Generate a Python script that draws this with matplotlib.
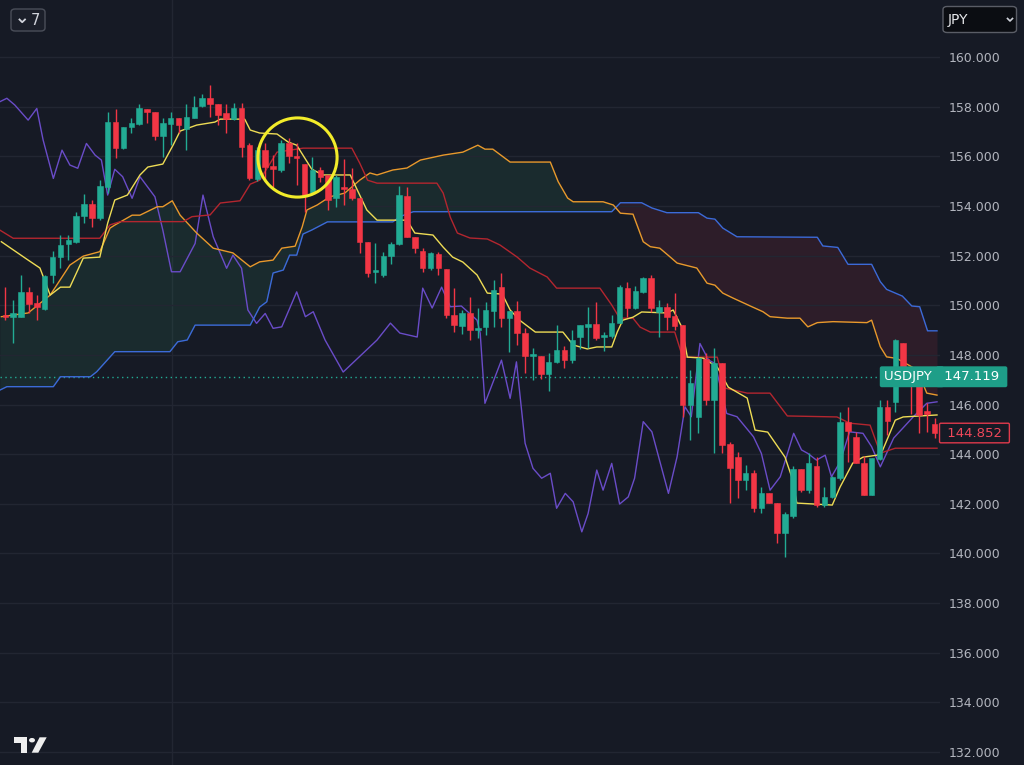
import matplotlib
matplotlib.use("Agg")
import matplotlib.pyplot as plt
import numpy as np
from matplotlib.patches import Rectangle, FancyBboxPatch, Polygon, Circle
from matplotlib.lines import Line2D

# ---- candles (USDJPY) ----
open_ = [149.60, 149.52, 149.54, 150.54, 150.09, 149.85, 151.22, 151.94, 152.47, 152.56,
         153.59, 154.08, 153.51, 154.77, 157.39, 156.33, 157.18, 157.30, 157.92, 157.78,
         156.82, 157.30, 157.54, 157.10, 157.54, 158.03, 158.35, 158.11, 157.74, 157.50,
         157.95, 156.45, 155.07, 156.25, 155.62, 155.45, 156.52, 156.01, 155.69, 154.51,
         155.45, 155.25, 154.31, 154.77, 154.67, 154.31, 152.56, 151.35, 151.22, 151.98,
         152.47, 154.40, 152.76, 152.20, 151.49, 152.06, 151.45, 149.60, 149.16, 149.70,
         149.00, 149.13, 149.77, 150.75, 149.47, 149.78, 148.87, 147.95, 147.95, 147.23,
         147.72, 148.19, 147.79, 148.73, 149.13, 149.24, 148.73, 148.76, 149.30, 150.68,
         149.88, 150.54, 151.08, 149.74, 149.94, 149.57, 149.20, 145.98, 145.51, 147.82,
         146.18, 147.68, 144.41, 143.90, 142.96, 143.23, 141.82, 142.42, 142.02, 140.81,
         141.51, 143.39, 142.55, 143.52, 141.95, 142.28, 143.03, 145.31, 144.68, 143.63,
         142.35, 143.79, 145.89, 146.11, 148.46, 147.10, 146.78, 145.75, 145.21]
high = [150.75, 150.21, 151.22, 150.75, 150.41, 151.22, 152.20, 152.83, 152.83, 153.77,
        154.48, 154.24, 155.04, 157.80, 157.90, 157.20, 157.54, 158.11, 157.92, 157.78,
        157.54, 157.80, 157.54, 158.11, 158.43, 158.51, 158.87, 158.11, 158.11, 158.15,
        158.15, 156.52, 156.37, 156.53, 156.05, 156.66, 156.72, 156.52, 155.69, 155.96,
        155.56, 155.25, 155.25, 155.88, 155.52, 154.31, 152.56, 152.49, 152.16, 152.56,
        154.80, 154.77, 152.76, 152.29, 152.16, 152.16, 151.45, 150.69, 149.81, 150.33,
        149.88, 150.14, 151.02, 151.30, 149.78, 150.18, 149.08, 148.28, 147.95, 148.09,
        149.20, 148.35, 149.00, 149.20, 149.94, 150.14, 148.93, 149.60, 150.80, 150.95,
        150.77, 151.12, 151.22, 150.21, 150.09, 150.49, 149.20, 147.39, 147.93, 148.06,
        148.28, 147.68, 144.50, 144.10, 143.56, 143.36, 142.69, 142.42, 142.02, 141.68,
        143.52, 143.39, 144.03, 143.90, 142.69, 143.12, 145.71, 145.91, 144.90, 143.92,
        143.83, 146.18, 146.18, 148.63, 148.46, 147.20, 146.86, 146.06, 145.46]
low = [149.40, 148.46, 149.52, 149.69, 149.40, 149.81, 150.89, 151.50, 151.82, 152.51,
       153.31, 153.16, 153.43, 154.52, 155.93, 156.30, 156.94, 157.26, 157.34, 156.66,
       155.97, 156.45, 156.94, 156.25, 157.54, 158.00, 157.59, 157.26, 156.95, 157.46,
       155.97, 155.04, 155.00, 155.04, 154.77, 155.38, 155.72, 154.84, 153.77, 154.44,
       154.98, 153.84, 153.97, 154.04, 154.24, 152.09, 151.15, 150.88, 151.15, 151.68,
       152.43, 152.76, 152.09, 151.35, 151.42, 151.22, 149.47, 148.93, 148.84, 148.60,
       148.67, 148.80, 149.13, 149.13, 148.13, 148.40, 147.28, 146.99, 147.03, 146.56,
       147.68, 147.46, 147.66, 148.24, 148.26, 148.60, 148.17, 148.67, 149.30, 149.54,
       149.84, 150.48, 149.74, 148.72, 149.00, 149.00, 145.51, 144.57, 144.84, 145.98,
       144.03, 144.03, 142.02, 142.22, 142.55, 141.68, 141.62, 142.04, 140.43, 139.87,
       141.43, 142.49, 142.42, 141.88, 141.88, 142.22, 142.96, 143.70, 143.63, 142.35,
       142.35, 143.76, 144.77, 145.71, 146.78, 145.60, 144.85, 144.90, 144.64]
close = [149.52, 149.69, 150.54, 150.05, 149.93, 151.19, 151.94, 152.43, 152.63, 153.59,
         154.08, 153.51, 154.80, 157.39, 156.32, 157.18, 157.34, 157.95, 157.78, 156.82,
         157.34, 157.54, 157.26, 157.58, 158.00, 158.35, 158.11, 157.66, 157.50, 157.95,
         156.37, 155.11, 156.25, 155.58, 155.48, 156.52, 156.01, 155.92, 154.44, 155.45,
         155.18, 154.24, 155.18, 154.67, 154.31, 152.56, 151.31, 151.42, 151.98, 152.47,
         154.44, 152.76, 152.29, 151.49, 152.09, 151.49, 149.60, 149.20, 149.70, 149.00,
         149.08, 149.81, 150.61, 149.47, 149.78, 148.87, 147.95, 148.03, 147.23, 147.72,
         148.19, 147.79, 148.60, 149.20, 149.24, 148.67, 148.80, 149.30, 150.72, 149.88,
         150.58, 151.08, 149.89, 149.94, 149.54, 149.16, 145.98, 146.88, 147.86, 146.18,
         147.68, 144.37, 143.43, 142.96, 143.23, 141.82, 142.42, 142.04, 140.81, 141.59,
         143.39, 142.55, 143.63, 141.95, 142.28, 143.07, 145.31, 144.94, 143.63, 142.35,
         143.83, 145.89, 145.35, 148.60, 146.85, 146.75, 145.57, 145.60, 144.852]

# ---- ichimoku lines (bar index, price) ----
tenkan_idx = [-0.5, 2.9, 4.4, 5.7, 7.0, 8.2, 9.9, 12.0, 13.0, 13.9, 15.5, 17.1, 18.1, 20.0,
              21.3, 22.2, 24.3, 26.6, 27.3, 30.4, 31.1, 32.3, 34.5, 35.9, 37.0, 38.9, 40.3,
              43.8, 44.7, 45.9, 47.2, 51.0, 52.0, 54.3, 55.6, 56.8, 58.1, 59.9, 61.2, 63.1,
              64.1, 65.3, 67.3, 70.8, 72.1, 73.9, 75.1, 77.0, 77.7, 78.4, 79.7, 80.8, 84.0,
              84.8, 85.9, 86.6, 88.6, 90.4, 91.8, 94.2, 95.2, 96.8, 99.0, 99.9, 100.5, 105.0,
              106.0, 107.6, 108.9, 110.7, 111.4, 113.0, 114.0, 118.3]
tenkan = [152.56, 151.82, 151.50, 150.41, 150.73, 150.73, 151.90, 151.94, 153.31, 154.24,
          154.44, 155.25, 155.57, 155.69, 156.45, 157.02, 157.26, 157.38, 157.50, 157.50,
          157.06, 156.94, 156.90, 156.58, 156.45, 155.49, 155.25, 155.25, 154.64, 153.84,
          153.43, 153.43, 152.91, 152.83, 152.34, 151.94, 151.74, 151.22, 150.49, 150.45,
          149.81, 149.40, 148.92, 148.92, 148.40, 148.24, 148.32, 148.32, 148.92, 149.40,
          149.52, 149.73, 149.69, 149.81, 149.12, 147.91, 147.87, 147.51, 146.70, 146.26,
          144.97, 144.89, 143.88, 143.04, 142.03, 141.95, 142.68, 143.64, 143.88, 143.96,
          144.16, 145.37, 145.50, 145.58]

kijun_idx = [-0.7, 1.0, 12.0, 13.3, 14.6, 22.6, 23.7, 26.0, 27.3, 29.8, 31.1, 32.3, 34.5,
             37.8, 44.0, 45.0, 46.0, 47.2, 54.8, 55.6, 56.5, 57.4, 59.0, 61.2, 62.8, 65.0,
             66.6, 68.8, 70.0, 75.5, 77.0, 78.0, 79.7, 80.6, 81.9, 85.0, 86.0, 90.4, 91.4,
             94.2, 97.1, 99.3, 105.6, 107.2, 109.8, 111.1, 113.0, 118.3]
kijun = [153.03, 152.70, 152.70, 153.24, 153.37, 153.37, 153.57, 153.64, 154.12, 154.21,
         154.88, 155.04, 156.17, 156.33, 156.33, 155.73, 155.04, 154.92, 154.92, 154.52,
         153.55, 152.91, 152.71, 152.67, 152.43, 151.94, 151.50, 151.14, 150.69, 150.69,
         150.01, 149.48, 149.48, 149.12, 148.92, 148.92, 147.91, 147.91, 146.66, 146.46,
         146.46, 145.54, 145.50, 145.25, 145.17, 144.04, 144.24, 144.24]

span_a_idx = [-0.5, 2.9, 5.7, 8.2, 9.9, 12.0, 13.3, 13.9, 16.1, 17.1, 19.3, 20.0, 21.2, 22.2,
              24.3, 26.4, 28.9, 31.1, 32.3, 34.0, 35.1, 36.8, 37.7, 38.3, 39.6, 41.2, 43.1,
              45.0, 46.3, 47.2, 49.2, 51.0, 52.7, 55.6, 58.1, 60.0, 60.9, 61.9, 64.1, 69.2,
              70.2, 71.4, 72.1, 75.9, 77.2, 78.1, 79.7, 81.0, 81.9, 83.1, 84.4, 85.3, 87.8,
              89.1, 90.1, 91.1, 92.4, 94.8, 96.2, 97.1, 99.3, 100.9, 101.9, 103.1, 105.1,
              109.4, 110.0, 111.1, 111.9, 113.2, 115.8, 117.0, 118.3]
span_a = [149.54, 149.69, 150.41, 151.62, 151.98, 152.16, 153.11, 153.23, 153.63, 153.63,
          153.97, 153.97, 154.21, 153.63, 152.91, 152.30, 152.11, 151.55, 151.75, 151.82,
          152.30, 152.38, 153.16, 153.84, 154.04, 154.37, 154.52, 155.04, 155.33, 155.25,
          155.45, 155.53, 155.85, 156.05, 156.17, 156.45, 156.29, 156.29, 155.77, 155.77,
          154.98, 154.32, 154.17, 154.17, 154.04, 153.71, 153.67, 152.56, 152.36, 152.30,
          151.95, 151.70, 151.50, 150.89, 150.81, 150.49, 150.29, 149.94, 149.74, 149.54,
          149.48, 149.48, 149.13, 149.30, 149.34, 149.30, 149.40, 148.33, 147.92, 147.86,
          147.39, 146.46, 146.38]

span_b_idx = [-0.7, 0.2, 6.1, 7.0, 10.8, 11.6, 13.9, 20.9, 21.9, 23.1, 24.1, 31.1, 32.3,
              33.2, 34.0, 35.3, 36.1, 37.0, 37.8, 38.9, 40.9, 49.2, 50.1, 51.8, 77.0, 78.1,
              80.8, 82.1, 84.0, 88.0, 89.1, 90.1, 91.1, 92.9, 103.1, 103.8, 105.7, 107.0,
              110.0, 111.1, 111.9, 113.9, 115.1, 116.1, 117.1, 118.3]
span_b = [146.58, 146.72, 146.72, 147.12, 147.12, 147.32, 148.13, 148.13, 148.53, 148.60,
          149.20, 149.20, 149.93, 150.14, 151.30, 151.42, 152.02, 152.02, 152.87, 153.03,
          153.36, 153.36, 153.57, 153.77, 153.77, 154.13, 154.13, 153.92, 153.73, 153.73,
          153.51, 153.47, 153.11, 152.76, 152.74, 152.39, 152.33, 151.65, 151.65, 150.95,
          150.64, 150.37, 149.97, 149.94, 148.97, 148.97]

chikou_idx = [-0.7, 0.2, 1.2, 2.9, 4.0, 4.8, 6.1, 7.2, 8.2, 9.2, 10.3, 11.4, 12.2, 13.0,
              13.9, 14.9, 16.1, 17.1, 19.0, 20.0, 21.1, 22.2, 24.1, 25.1, 26.4, 28.1, 28.9,
              30.0, 30.8, 31.9, 33.0, 34.0, 35.1, 37.0, 38.1, 39.1, 40.6, 42.9, 47.2, 48.9,
              50.1, 52.3, 53.0, 54.2, 55.4, 56.5, 57.9, 59.9, 60.3, 60.9, 63.0, 64.1, 64.9,
              66.0, 67.0, 68.1, 69.2, 70.0, 71.1, 72.1, 73.2, 74.0, 75.1, 75.9, 77.0, 78.0,
              79.1, 79.9, 81.0, 82.1, 84.2, 85.3, 86.3, 87.1, 88.2, 89.3, 90.1, 91.6, 92.9,
              95.0, 96.0, 97.1, 98.4, 100.1, 101.1, 101.9, 103.0, 104.1, 104.9, 106.0, 107.2,
              108.9, 110.0, 111.1, 112.8, 115.3, 117.0, 118.3]
chikou = [158.20, 158.34, 158.07, 157.46, 157.93, 156.66, 155.11, 156.25, 155.65, 155.52,
          156.52, 156.05, 155.85, 154.44, 155.48, 155.18, 154.31, 155.18, 154.37, 153.03,
          151.35, 151.35, 152.49, 154.44, 152.76, 151.49, 152.02, 151.49, 149.81, 149.27,
          149.67, 149.07, 149.13, 150.54, 149.54, 149.74, 148.60, 147.31, 148.60, 149.28,
          148.88, 148.72, 150.69, 149.89, 150.73, 149.94, 149.97, 149.40, 148.87, 146.05,
          147.79, 146.25, 147.72, 144.44, 143.43, 143.03, 143.23, 141.82, 142.42, 142.08,
          140.87, 141.61, 143.36, 142.55, 143.63, 141.99, 142.28, 143.03, 145.31, 144.90,
          142.42, 143.90, 145.91, 145.51, 148.46, 147.79, 147.66, 145.64, 145.51, 144.70,
          144.03, 142.55, 143.09, 144.84, 144.17, 144.03, 143.76, 143.96, 143.09, 143.69,
          144.90, 144.84, 144.30, 143.49, 144.65, 145.51, 146.05, 146.11]

price_ticks = list(range(132, 161, 2))
current_price = 147.119
last_close = 144.852
symbol = "USDJPY"
currency = "JPY"
interval_label = "7"
highlight_idx = 37.1   # circled area
highlight_price = 155.96

# ---- colors ----
BG = "#161a25"
GRID = "#222632"
UP = "#22ab94"
DOWN = "#f23645"
TEXT = "#b2b5be"

W, H = 1024, 765
fig = plt.figure(figsize=(W / 100, H / 100), dpi=100, facecolor=BG)
ax = fig.add_axes([0, 0, 940 / W, 1])
ax.set_facecolor(BG)


def px(x, y):
    """pixel (top-left origin) -> figure fraction"""
    return x / W, 1 - y / H


n = len(close)
idx = np.arange(n)
o = np.array(open_)
c = np.array(close)
hi = np.array(high)
lo = np.array(low)
up = c >= o

# cloud
grid = np.linspace(-0.7, 118.3, 3000)
a = np.interp(grid, span_a_idx, span_a)
b = np.interp(grid, span_b_idx, span_b)
ax.fill_between(grid, a, b, where=a >= b, interpolate=True, color="#2e7d5b", alpha=0.18, lw=0)
ax.fill_between(grid, a, b, where=a < b, interpolate=True, color="#a0303f", alpha=0.17, lw=0)

# lines
lw = 1.0
ax.plot(chikou_idx, chikou, color="#6a4cc8", lw=lw, zorder=3)
ax.plot(span_b_idx, span_b, color="#3c6ad8", lw=lw, zorder=3)
ax.plot(span_a_idx, span_a, color="#e8992c", lw=lw, zorder=3)
ax.plot(kijun_idx, kijun, color="#b3262f", lw=lw, zorder=3)
ax.plot(tenkan_idx, tenkan, color="#eedc55", lw=lw, zorder=3)

# candles
colors = np.where(up, UP, DOWN)
ax.vlines(idx, lo, hi, colors=colors, lw=1.0, zorder=4)
body_lo = np.minimum(o, c)
body_h = np.maximum(np.abs(c - o), 0.04)
ax.bar(idx, body_h, bottom=body_lo, width=0.7, color=colors, edgecolor=colors,
       linewidth=0.4, zorder=5)

# current price dotted line
ax.axhline(current_price, color="#22ab94", lw=1.0, ls=(0, (1, 2.5)), zorder=2)

# highlight circle
ax.plot([highlight_idx], [highlight_price], marker="o", ms=57, mfc="none",
        mec="#f2ec2a", mew=2.2, zorder=6)

# axes / grid
ax.set_xlim(-0.673, 118.68)
ax.set_ylim(131.476, 162.30)
ax.set_yticks(price_ticks)
ax.set_yticklabels([f"{t:.3f}" for t in price_ticks])
ax.yaxis.tick_right()
ax.tick_params(axis="y", length=0, pad=6.5, labelsize=9, labelcolor=TEXT)
ax.tick_params(axis="x", length=0, labelbottom=False)
ax.grid(axis="y", color=GRID, lw=1.0, zorder=0)
ax.axvline(21.2, color=GRID, lw=1.0, zorder=0)
for s in ax.spines.values():
    s.set_visible(False)

# price labels on the axis
ax.text(1.0, current_price, symbol + "  ", transform=ax.get_yaxis_transform(),
        ha="right", va="center", fontsize=9.5, color="white", zorder=7,
        bbox=dict(boxstyle="round,pad=0.3,rounding_size=0.15", fc="#1e9e88", ec="none"))
ax.text(1.0, current_price, " 147.119 ", transform=ax.get_yaxis_transform(),
        ha="left", va="center", fontsize=9.5, color="white", zorder=7, clip_on=False,
        bbox=dict(boxstyle="round,pad=0.3,rounding_size=0.15", fc="#1e9e88", ec="none"))
ax.text(1.003, last_close, f" {last_close:.3f} ", transform=ax.get_yaxis_transform(),
        ha="left", va="center", fontsize=9.5, color="#f0475a", zorder=7, clip_on=False,
        bbox=dict(boxstyle="round,pad=0.25,rounding_size=0.1", fc=BG, ec="#e03a4c", lw=1))

# top-left interval button
x0, y0 = px(11, 31)
x1, y1 = px(45, 9)
fig.patches.append(FancyBboxPatch((x0, y0), x1 - x0, y1 - y0,
                                  boxstyle="round,pad=0,rounding_size=0.004",
                                  transform=fig.transFigure, fc="#1b1f2a", ec="#4a4e59", lw=1))
cx = [px(19.5, 19.5), px(22.2, 22.2), px(25, 19.5)]
fig.lines.append(Line2D([p[0] for p in cx], [p[1] for p in cx], transform=fig.transFigure,
                        color="#d1d4dc", lw=1.3))
fig.text(*px(31, 20.5), interval_label, fontsize=10.5, color="#d1d4dc", va="center")

# JPY dropdown
x0, y0 = px(943, 32.5)
x1, y1 = px(1016.5, 6.5)
fig.patches.append(FancyBboxPatch((x0, y0), x1 - x0, y1 - y0,
                                  boxstyle="round,pad=0,rounding_size=0.004",
                                  transform=fig.transFigure, fc="#0b0d12", ec="#5a5d66", lw=1))
fig.text(*px(947.5, 20), currency, fontsize=10, color="#e6e7ea", va="center")
cx = [px(1007.5, 18.5), px(1010, 21), px(1012.5, 18.5)]
fig.lines.append(Line2D([p[0] for p in cx], [p[1] for p in cx], transform=fig.transFigure,
                        color="#d1d4dc", lw=1.2))

# TradingView logo
LOGO = "#eeeeee"
fig.patches.append(Polygon([px(14, 737.3), px(27.3, 737.3), px(27.3, 752.7), px(20.7, 752.7),
                            px(20.7, 742.7), px(14, 742.7)], closed=True,
                           transform=fig.transFigure, fc=LOGO, ec="none"))
fig.patches.append(Circle(px(32, 740.2), 3.0 / W, transform=fig.transFigure, fc=LOGO, ec="none"))
fig.patches.append(Polygon([px(31.7, 752.7), px(38.3, 752.7), px(46.7, 737.3), px(39.6, 737.3)],
                           closed=True, transform=fig.transFigure, fc=LOGO, ec="none"))

fig.savefig("out.png", dpi=100, facecolor=BG)
